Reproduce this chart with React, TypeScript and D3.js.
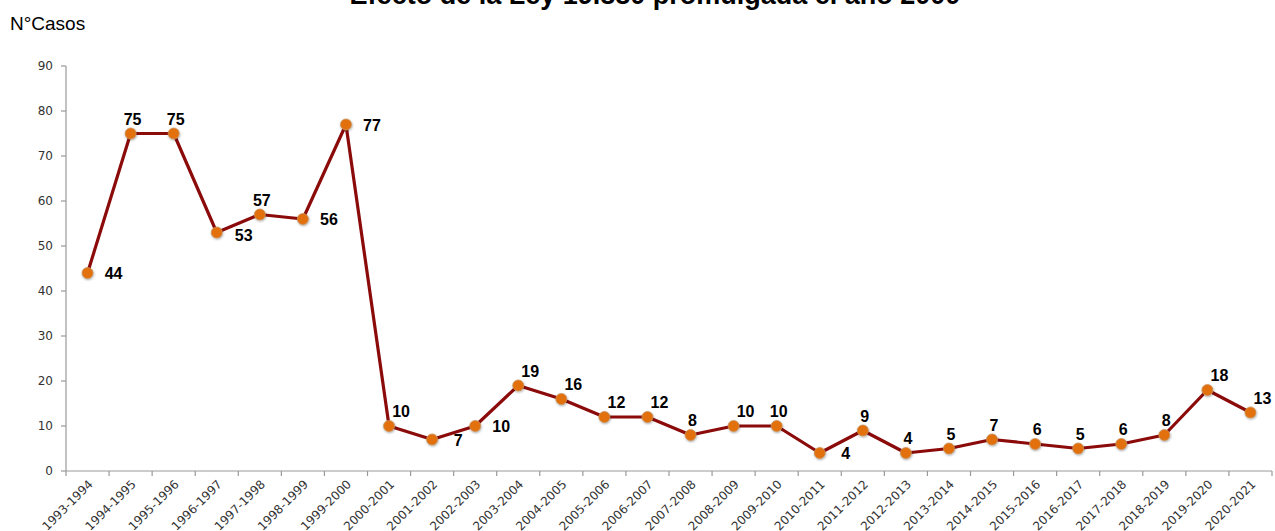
import React from 'react';
import * as d3 from 'd3';

const periods = [
  '1993-1994', '1994-1995', '1995-1996', '1996-1997', '1997-1998', '1998-1999', '1999-2000',
  '2000-2001', '2001-2002', '2002-2003', '2003-2004', '2004-2005', '2005-2006', '2006-2007',
  '2007-2008', '2008-2009', '2009-2010', '2010-2011', '2011-2012', '2012-2013', '2013-2014',
  '2014-2015', '2015-2016', '2016-2017', '2017-2018', '2018-2019', '2019-2020', '2020-2021',
];
const cases = [44, 75, 75, 53, 57, 56, 77, 10, 7, 10, 19, 16, 12, 12, 8, 10, 10, 4, 9, 4, 5, 7, 6, 5, 6, 8, 18, 13];
// where each value label sits relative to its point
const labelSide = [
  'right', 'above', 'above', 'belowright', 'above', 'right', 'right', 'aboveright', 'right', 'right',
  'aboveright', 'aboveright', 'aboveright', 'aboveright', 'above', 'aboveright', 'above', 'right', 'above', 'above',
  'above', 'above', 'above', 'above', 'above', 'above', 'aboveright', 'aboveright',
];
const yTicks = [0, 10, 20, 30, 40, 50, 60, 70, 80, 90];

const title = 'Efecto de la Ley 19.880 promulgada el año 2000';

const W = 1275;
const H = 531;
const margin = { top: 66, right: 3, bottom: 60, left: 66 };

const offsets: Record<string, [number, number]> = {
  right: [26, 6],
  above: [2, -9],
  aboveright: [12, -9],
  belowright: [27, 8],
};

export default function App() {
  const x = d3.scaleBand<string>().domain(periods).range([margin.left, W - margin.right]);
  const y = d3.scaleLinear().domain([0, 90]).range([H - margin.bottom, margin.top]);
  const cx = (p: string) => (x(p) ?? 0) + x.bandwidth() / 2;

  const line = d3.line<number>()
    .x((_, i) => cx(periods[i]))
    .y(d => y(d));

  const axisFont = '"DejaVu Sans", Lato, sans-serif';

  return (
    <svg width={W} height={H} style={{ position: 'absolute', left: 0, top: 0, background: '#fff' }}>
      <defs>
        <filter id="sh" x="-50%" y="-50%" width="200%" height="200%">
          <feDropShadow dx="0.5" dy="1" stdDeviation="1" floodColor="#000" floodOpacity="0.35" />
        </filter>
      </defs>
      <text x={655} y={4} textAnchor="middle" fontFamily="Arial, 'Liberation Sans', sans-serif"
        fontWeight="bold" fontSize={27} fill="#000">{title}</text>
      <text x={10} y={30} fontFamily="Arial, 'Liberation Sans', sans-serif" fontSize={19} fill="#000">N°Casos</text>

      {/* y axis */}
      <line x1={margin.left} x2={margin.left} y1={y(90)} y2={y(0)} stroke="#999" strokeWidth={1.2} />
      {yTicks.map(t => (
        <g key={t}>
          <line x1={margin.left - 5} x2={margin.left} y1={y(t)} y2={y(t)} stroke="#999" strokeWidth={1.2} />
          <text x={margin.left - 13} y={y(t) + 4} textAnchor="end" fontFamily={axisFont} fontSize={12} fill="#333">{t}</text>
        </g>
      ))}

      {/* x axis */}
      <line x1={margin.left} x2={W - margin.right} y1={y(0)} y2={y(0)} stroke="#999" strokeWidth={1.2} />
      {periods.map(p => (
        <line key={'t' + p} x1={x(p)} x2={x(p)} y1={y(0)} y2={y(0) + 5} stroke="#999" strokeWidth={1.2} />
      ))}
      <line x1={W - margin.right} x2={W - margin.right} y1={y(0)} y2={y(0) + 5} stroke="#999" strokeWidth={1.2} />
      {periods.map(p => (
        <text key={'l' + p} transform={`translate(${cx(p) + 6},${y(0) + 14}) rotate(-45)`}
          textAnchor="end" fontFamily={axisFont} fontSize={12} fill="#333">{p}</text>
      ))}

      <path d={line(cases) ?? ''} fill="none" stroke="#8b0a0a" strokeWidth={3.2} strokeLinejoin="round" />
      {cases.map((v, i) => (
        <circle key={'c' + i} cx={cx(periods[i])} cy={y(v)} r={5.5} fill="#e2700f" stroke="#c9935c" strokeWidth={0.8} filter="url(#sh)" />
      ))}
      {cases.map((v, i) => {
        const [dx, dy] = offsets[labelSide[i]];
        return (
          <text key={'v' + i} x={cx(periods[i]) + dx} y={y(v) + dy} textAnchor="middle"
            fontFamily="Arial, 'Liberation Sans', sans-serif" fontWeight="bold" fontSize={16} fill="#000">{v}</text>
        );
      })}
    </svg>
  );
}
